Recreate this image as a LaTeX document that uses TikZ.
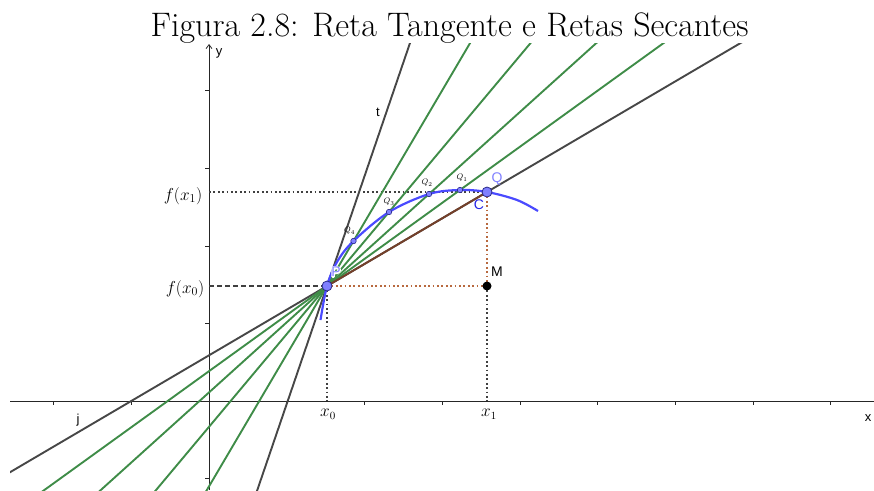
\documentclass[tikz,border=0pt]{standalone}
\usepackage{fontspec}
\newfontfamily\geofont{Liberation Sans}
\usetikzlibrary{positioning, calc, arrows.meta}
\definecolor{linecol}{HTML}{474747}
\definecolor{seccol}{HTML}{3F8C48}
\definecolor{browncol}{HTML}{74402A}
\definecolor{dotbrown}{HTML}{B8693F}
\definecolor{curvecol}{HTML}{4A4AFF}
\definecolor{ptcol}{HTML}{8080FF}
\definecolor{ptedge}{HTML}{2A2A8A}
\definecolor{ccol}{HTML}{2323E6}
\newcommand{\haloed}[1]{\rlap{\special{pdf:literal direct 1 1 1 RG 2.2 w 1 j 1 Tr}#1\special{pdf:literal direct 0 Tr}}#1}

\begin{document}
\begin{tikzpicture}[x=1pt, y=-1pt,
    axisline/.style={line width=0.8pt, black!85},
    axistick/.style={line width=0.6pt, black!85},
    grayline/.style={line width=1.9pt, linecol},
    secline/.style={line width=1.9pt, seccol},
    blackdot/.style={line width=1.8pt, black!75, dash pattern=on 1.8pt off 2.6pt},
    browndot/.style={line width=1.8pt, dotbrown, dash pattern=on 1.8pt off 2.6pt},
    bigpt/.style={circle, draw=ptedge, fill=ptcol, line width=0.8pt, inner sep=0pt, minimum size=10pt},
    smallpt/.style={circle, draw=ptedge, fill=ptcol, line width=0.6pt, inner sep=0pt, minimum size=5.5pt},
    geolbl/.style={font=\geofont\fontsize{13}{13}\selectfont, inner sep=0pt},
    ptlbl/.style={font=\geofont\fontsize{14}{14}\selectfont, inner sep=0pt},
    qlbl/.style={font=\fontsize{8}{8}\selectfont, inner sep=0pt},
    mathlbl/.style={font=\fontsize{16}{16}\selectfont, inner sep=0pt}]
  \useasboundingbox (0,0) rectangle (874,490);

  % title
  \node[anchor=base, inner sep=0pt, font=\fontsize{34}{38}\selectfont] (title) at (449.5,36)
    {Figura 2.8: Reta Tangente e Retas Secantes};

  % points
  \coordinate (P) at (327,286);
  \coordinate (Q) at (487,192);
  \coordinate (M) at (487,286);
  \coordinate (Q1) at (460,190);
  \coordinate (Q2) at (429,194);
  \coordinate (Q3) at (389,212);
  \coordinate (Q4) at (353.5,241);
  \coordinate (tdir) at (410,43);
  \coordinate (fx1) at (209,192);
  \coordinate (fx0) at (209,286);
  \coordinate (x0) at (327,401);
  \coordinate (x1) at (487,401);

  % axes
  \draw[axisline] (10,401) -- (874,401);
  \draw[axisline, -{Straight Barb[length=4pt, width=6pt]}] (209,490) -- (209,44);
  \foreach \k in {-2,...,8}
    \draw[axistick] (209+77.7*\k,401) -- ++(0,4);
  \foreach \k in {-1,1,2,3,4}
    \draw[axistick] (209,401-77.6*\k) -- ++(-4,0);

  % guide lines
  \draw[blackdot] (fx1) -- (Q);
  \draw[line width=1.8pt, black!75, dash pattern=on 5pt off 3pt] (fx0) -- (P);
  \draw[blackdot] (P) -- (x0);
  \draw[blackdot] (M) -- (x1);
  \draw[browndot] (P) -- (M);
  \draw[browndot] (Q) -- (M);

  \begin{scope}
    \clip (10,43) rectangle (874,490);
    \draw[grayline] ($(P)!-2.5!(Q)$) -- ($(P)!4!(Q)$);
    \draw[grayline] ($(P)!-1.2!(tdir)$) -- ($(P)!1.2!(tdir)$);
    \foreach \q/\k in {Q1/4,Q2/5,Q3/6,Q4/9}
      \draw[secline] ($(P)!-\k!(\q)$) -- ($(P)!\k!(\q)$);
  \end{scope}
  \draw[line width=1.9pt, browncol] (P) -- (Q);

  % curve
  \draw[curvecol, line width=2.2pt] plot[smooth, tension=0.55] coordinates
    {(320.5,320) (327,286) (337,262) (353.5,241) (389,212)
     (429,194) (460,190) (487,192) (517,200) (538,211)};

  \node[bigpt] (Pn) at (P) {};
  \node[bigpt] (Qn) at (Q) {};
  \node[circle, fill=black, inner sep=0pt, minimum size=9pt] (Mn) at (M) {};
  \foreach \q in {Q1,Q2,Q3,Q4}
    \node[smallpt] (\q n) at (\q) {};

  % labels
  \node[geolbl] (ylbl) at (219,53) {y};
  \node[geolbl] (xlbl) at (868,418) {x};
  \node[geolbl] (tlbl) at (378,112) {t};
  \node[geolbl] (jlbl) at (78,420) {j};
  \node[ptlbl, text=ptcol] (Plbl) at (336,272) {\haloed{P}};
  \node[ptlbl, text=ptcol] (Qlbl) at (497,179) {Q};
  \node[ptlbl, text=ccol] (Clbl) at (479,205) {C};
  \node[ptlbl] (Mlbl) at (497,272) {M};
  \node[qlbl] (q1lbl) at (462,178) {$Q_1$};
  \node[qlbl] (q2lbl) at (427,183) {$Q_2$};
  \node[qlbl] (q3lbl) at (389,202) {$Q_3$};
  \node[qlbl] (q4lbl) at (349.5,231) {$Q_4$};
  \node[mathlbl, font=\fontsize{17}{17}\selectfont] (fx1lbl) at (183,196) {$f(x_1)$};
  \node[mathlbl, font=\fontsize{17}{17}\selectfont] (fx0lbl) at (185,289) {$f(x_0)$};
  \node[mathlbl] (x0lbl) at (328,414) {$x_0$};
  \node[mathlbl] (x1lbl) at (489,414) {$x_1$};
\end{tikzpicture}
\end{document}
